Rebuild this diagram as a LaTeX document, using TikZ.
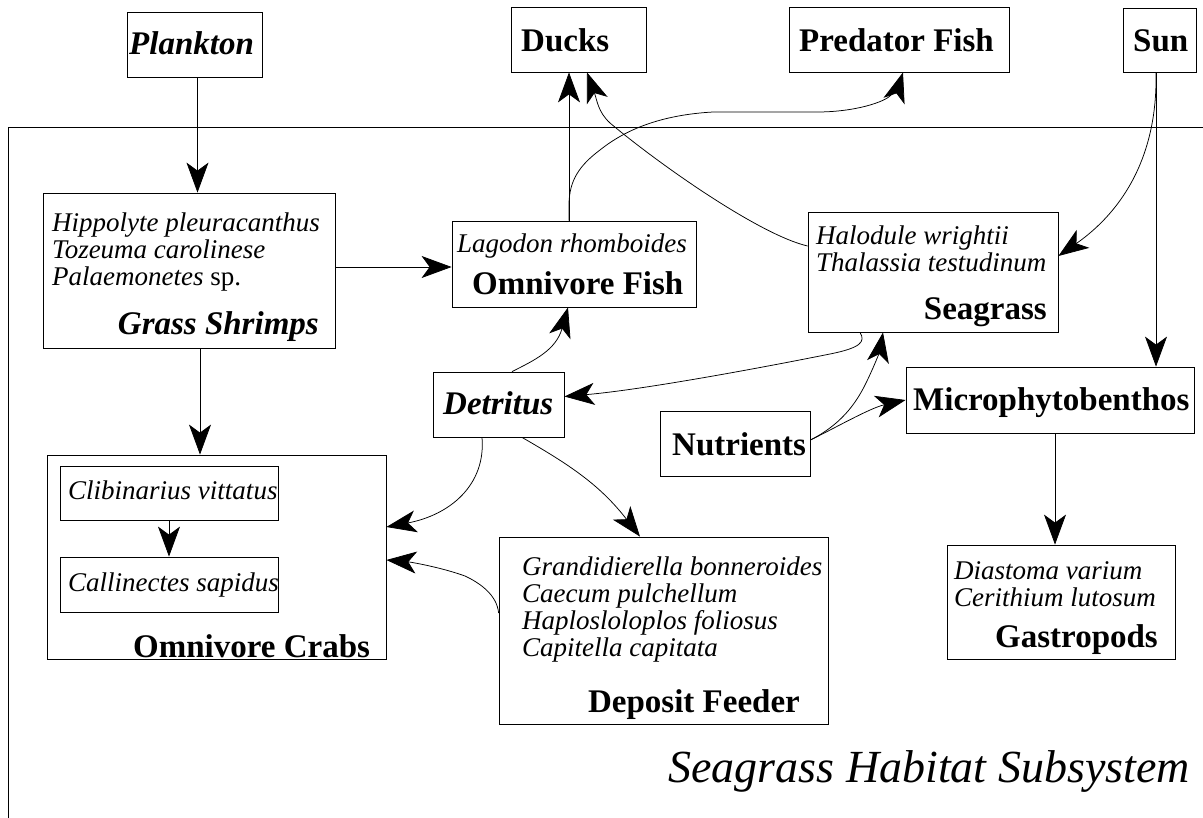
\documentclass[tikz,border=0pt]{standalone}
\usepackage{fontspec}
\setmainfont{Liberation Serif}
\usetikzlibrary{arrows.meta}
\begin{document}
\begin{tikzpicture}[x=1pt,y=-1pt,
  box/.style={draw, line width=0.8pt, rectangle, inner sep=0pt},
  arr/.style={line width=0.75pt, -{Stealth[length=30pt 0 0,width=22pt 0,inset=8pt 0]}},
  spec/.style={font=\fontsize{27}{27}\selectfont\itshape, inner sep=0pt, anchor=base west},
  lab/.style={font=\fontsize{33}{33}\selectfont\bfseries, inner sep=0pt},
  labi/.style={font=\fontsize{33}{33}\selectfont\bfseries\itshape, inner sep=0pt},
  ttl/.style={font=\fontsize{46}{46}\selectfont\itshape, inner sep=0pt}]
\useasboundingbox (0,0) rectangle (1203,818);
% habitat frame
\draw[line width=0.8pt] (8,818) -- (8,127) -- (1203,127);

% boxes
\node[box, minimum width=135pt, minimum height=65pt] (plank) at (194.5,44.5) {};
\node[box, minimum width=135pt, minimum height=65pt] (ducks) at (578.5,39.5) {};
\node[box, minimum width=220pt, minimum height=65pt] (pred) at (899,39.5) {};
\node[box, minimum width=73pt, minimum height=64pt] (sun) at (1159.5,40) {};
\node[box, minimum width=292pt, minimum height=155pt] (shrimp) at (189,270.5) {};
\node[box, minimum width=244pt, minimum height=86pt] (ofish) at (574,264) {};
\node[box, minimum width=250pt, minimum height=120pt] (seag) at (933,272) {};
\node[box, minimum width=131pt, minimum height=65pt] (detr) at (498.5,404.5) {};
\node[box, minimum width=150pt, minimum height=65pt] (nutr) at (735,443.5) {};
\node[box, minimum width=288pt, minimum height=66pt] (micro) at (1050,400) {};
\node[box, minimum width=339pt, minimum height=204pt] (crabs) at (216.5,557) {};
\node[box, minimum width=218pt, minimum height=54pt] (clib) at (169,493) {};
\node[box, minimum width=218pt, minimum height=55pt] (call) at (169,584.5) {};
\node[box, minimum width=329pt, minimum height=187pt] (dep) at (663.5,630.5) {};
\node[box, minimum width=228pt, minimum height=114pt] (gast) at (1061,602) {};

% texts
\node[labi, anchor=base west] (tplank) at (129,55) {Plankton};
\node[lab, anchor=base west] (tducks) at (521,52) {Ducks};
\node[lab, anchor=base west] (tpred) at (799,52) {Predator Fish};
\node[lab, anchor=base west] (tsun) at (1133,52) {Sun};

\node[spec] (s1) at (52,232) {Hippolyte pleuracanthus};
\node[spec] (s2) at (52,259) {Tozeuma carolinese};
\node[spec] (s3) at (52,285.5) {Palaemonetes\/ \upshape sp.};
\node[labi, anchor=base east] (tshrimp) at (319,335) {Grass Shrimps};

\node[spec] (o1) at (457,253) {Lagodon rhomboides};
\node[lab, anchor=base west] (tofish) at (472,295) {Omnivore Fish};

\node[spec] (g1) at (816,245) {Halodule wrightii};
\node[spec] (g2) at (816,272) {Thalassia testudinum};
\node[lab, anchor=base east] (tseag) at (1047,320) {Seagrass};

\node[labi, anchor=base west] (tdetr) at (443,414) {Detritus};
\node[lab, anchor=base west] (tnutr) at (672,455) {Nutrients};
\node[lab, anchor=base west] (tmicro) at (913,410) {Microphytobenthos};

\node[spec] (c1) at (68,499) {Clibinarius vittatus};
\node[spec] (c2) at (68,591) {Callinectes sapidus};
\node[lab, anchor=base west] (tcrabs) at (133,657) {Omnivore Crabs};

\node[spec] (d1) at (522,575) {Grandidierella bonneroides};
\node[spec] (d2) at (522,602) {Caecum pulchellum};
\node[spec] (d3) at (522,629) {Haplosloloplos foliosus};
\node[spec] (d4) at (522,656) {Capitella capitata};
\node[lab, anchor=base east] (tdep) at (800,712) {Deposit Feeder};

\node[spec] (a1) at (954,579) {Diastoma varium};
\node[spec] (a2) at (954,606) {Cerithium lutosum};
\node[lab, anchor=base east] (tgast) at (1158,647) {Gastropods};

\node[ttl, anchor=base east] (title) at (1190,782) {Seagrass Habitat Subsystem};

% connectors
\draw[arr] ([xshift=3pt]plank.south) -- ([xshift=3pt]plank.south |- shrimp.north);
\draw[arr] ([xshift=11pt]shrimp.south) -- ([xshift=11pt]shrimp.south |- crabs.north);
\draw[arr] ([yshift=-3pt]ofish.west -| shrimp.east) -- ([yshift=-3pt]ofish.west);
\draw[arr] (clib.south) -- (call.north);
\draw[arr] ([xshift=-5pt]ofish.north) -- ([xshift=-5pt]ofish.north |- ducks.south);
\draw[arr] ([xshift=-5pt]ofish.north) -- (569,205)
  .. controls (569,180) and (580,165) .. (600,150)
  .. controls (625,130) and (660,115) .. (713,112)
  -- (817,112)
  .. controls (855,112) and (885,102) .. (891,95)
  .. controls (896,90) and (900,82) .. ([xshift=4pt]pred.south);
\draw[arr] ([yshift=26pt]seag.west)
  .. controls (760,235) and (660,165) .. (610,123)
  .. controls (598,112) and (597,100) .. ([xshift=8.5pt]ducks.south);
\draw[arr] ([xshift=-3.5pt]sun.south) -- ([xshift=-3.5pt]sun.south |- micro.north);
\draw[arr] ([xshift=-3.5pt]sun.south)
  .. controls (1158,170) and (1110,220) .. ([yshift=16pt]seag.east);
\draw[arr] ([xshift=-73pt]seag.south)
  .. controls (866,342) and (860,348) .. (830,354)
  .. controls (750,370) and (640,390) .. ([yshift=8pt]detr.east);
\draw[arr] ([yshift=3.5pt]nutr.east)
  .. controls (840,425) and (855,405) .. (865,385)
  .. controls (875,365) and (880,350) .. ([xshift=-50pt]seag.south);
\draw[arr] ([yshift=3.5pt]nutr.east)
  .. controls (835,428) and (870,408) .. (micro.west);
\draw[arr] ([xshift=13.5pt]detr.north)
  .. controls (535,360) and (556,350) .. ([xshift=-6pt]ofish.south);
\draw[arr] ([xshift=-16.5pt]detr.south)
  .. controls (486,485) and (450,515) .. ([yshift=30pt]crabs.east);
\draw[arr] ([yshift=17.5pt]dep.west)
  .. controls (497,595) and (480,583) .. (465,576)
  .. controls (440,567) and (410,562) .. ([yshift=-3pt]crabs.east);
\draw[arr] ([xshift=23.5pt]detr.south)
  .. controls (570,465) and (600,485) .. ([xshift=-23.5pt]dep.north);
\draw[arr] ([xshift=5pt]micro.south) -- ([xshift=5pt]micro.south |- gast.north);
\end{tikzpicture}
\end{document}
